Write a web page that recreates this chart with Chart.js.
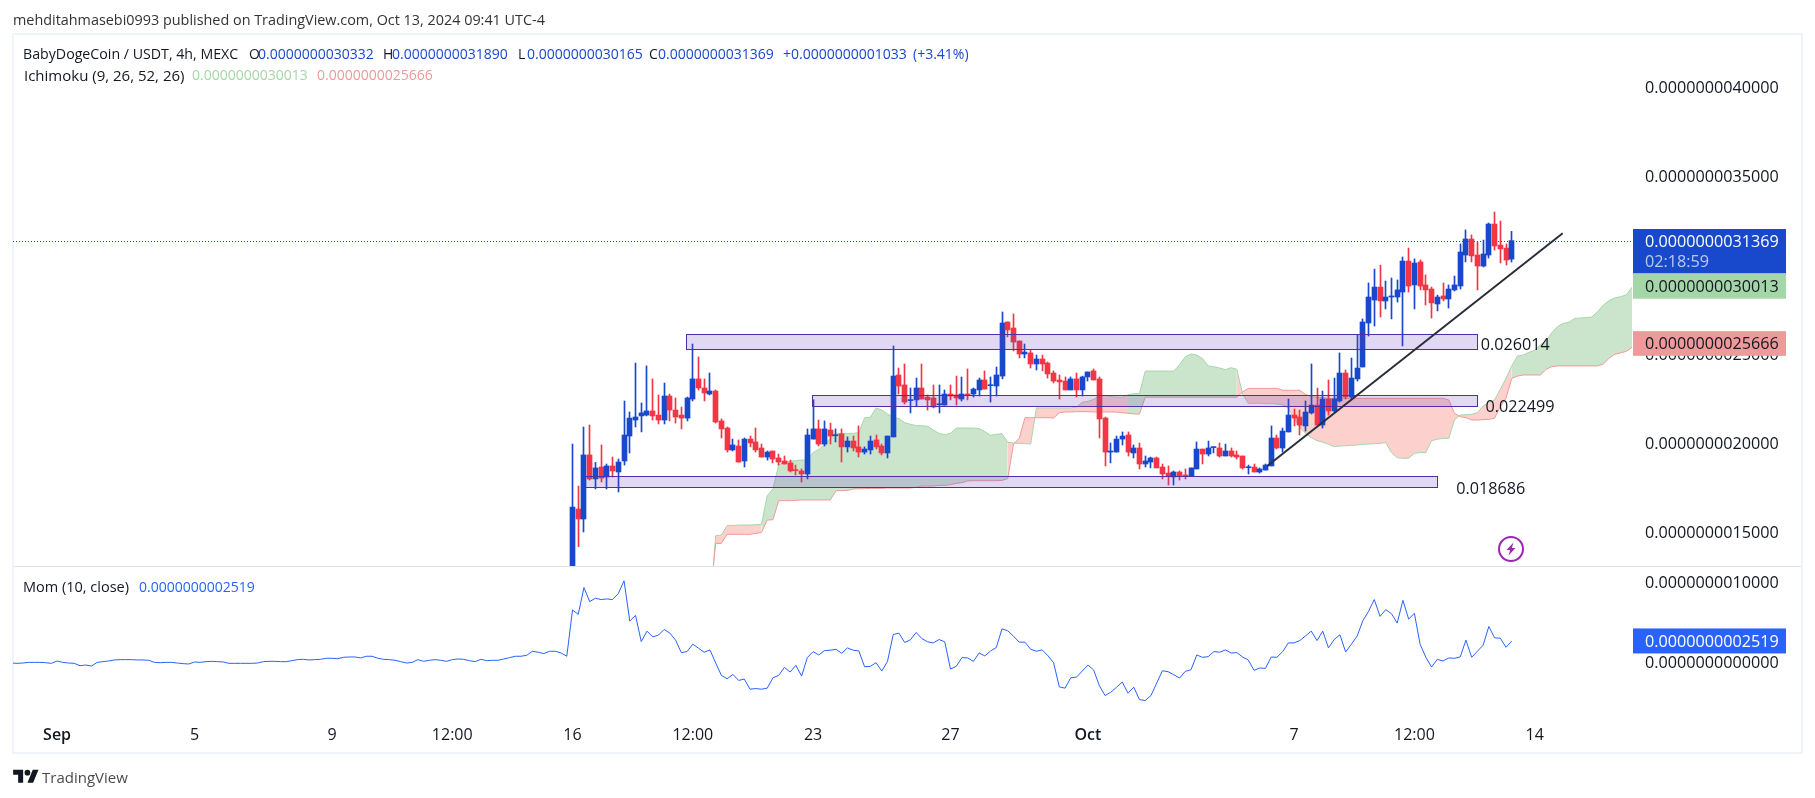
<!DOCTYPE html>
<html>
<head>
<meta charset="utf-8">
<title>BabyDogeCoin / USDT</title>
<style>
    html, body { margin: 0; padding: 0; background: #fff; }
    #page { position: relative; width: 1815px; height: 798px; overflow: hidden; font-family: "Open Sans", sans-serif; font-size: 14px; color: #131722; }
    #frame { position: absolute; left: 12px; top: 33px; width: 1791px; height: 721px; box-sizing: border-box; border: 2px solid #f0f3fa; }
    #wrap { position: absolute; left: 0; top: 0; width: 1815px; height: 798px; }
    .t { position: absolute; line-height: 20px; white-space: nowrap; }
    .v { color: #1848cc; }
</style>
</head>
<body>
<div id="page">
    <div id="frame"></div>
    <div id="wrap"><canvas id="chart"></canvas></div>

    <div class="t" style="left:13px;top:10px;color:#333;font-size:14.4px">mehditahmasebi0993 published on TradingView.com, Oct 13, 2024 09:41 UTC-4</div>

    <div class="t" style="left:23px;top:44px;font-size:14.2px">BabyDogeCoin / USDT, 4h, MEXC</div>
    <div class="t" style="left:249px;top:44px">O</div><div class="t v" style="left:258px;top:44px">0.0000000030332</div>
    <div class="t" style="left:383px;top:44px">H</div><div class="t v" style="left:392px;top:44px">0.0000000031890</div>
    <div class="t" style="left:518px;top:44px">L</div><div class="t v" style="left:527px;top:44px">0.0000000030165</div>
    <div class="t" style="left:649px;top:44px">C</div><div class="t v" style="left:658px;top:44px">0.0000000031369</div>
    <div class="t v" style="left:783px;top:44px">+0.0000000001033</div>
    <div class="t v" style="left:913px;top:44px">(+3.41%)</div>

    <div class="t" style="left:24px;top:65px;font-size:15px">Ichimoku (9, 26, 52, 26)</div>
    <div class="t" style="left:192px;top:65px;color:#a5d6a7">0.0000000030013</div>
    <div class="t" style="left:317px;top:65px;color:#ef9a9a">0.0000000025666</div>

    <div class="t" style="left:23px;top:577px;font-size:14.5px">Mom (10, close)</div>
    <div class="t" style="left:139px;top:577px;color:#2962ff">0.0000000002519</div>

    <svg style="position:absolute;left:13px;top:767px" width="26" height="20" viewBox="0 0 36 28" fill="#131722">
        <path d="M14 22H7V11H0V4h14v18zM28 22h-8l7.5-18h8L28 22z"/><circle cx="20" cy="8" r="4"/>
    </svg>
    <div class="t" style="left:42px;top:767px;font-size:15px;color:#4a4a4a">TradingView</div>

    <svg style="position:absolute;left:1497px;top:535px" width="28" height="28" viewBox="0 0 28 28">
        <circle cx="14" cy="14" r="12" fill="#fff" stroke="#9c27b0" stroke-width="2"/>
        <path d="M16.5 7.5 L9.5 15 H13.2 L11.5 20.5 L18.5 13 H14.8 Z" fill="#9c27b0"/>
    </svg>
</div>

<script src="https://cdn.jsdelivr.net/npm/chart.js@4/dist/chart.umd.js"></script>
<script>
// ------------------------------------------------------- //
// Data. Prices are in units of 1e-9
// ------------------------------------------------------ //
const opens = [
    1.25,1.629,1.573,1.933,1.798,1.865,1.809,1.871,1.837,1.899,
    2.039,2.129,2.152,2.157,2.180,2.157,2.129,2.264,2.185,2.157,
    2.140,2.247,2.360,2.309,2.275,2.292,2.124,2.084,1.961,1.983,
    1.899,2.022,2.006,1.972,1.921,1.955,1.916,1.899,1.888,1.848,
    1.843,1.826,2.022,2.079,1.994,2.073,2.041,2.051,1.978,2.011,
    1.978,1.949,1.961,2.017,1.983,1.944,2.034,2.382,2.326,2.238,
    2.242,2.309,2.258,2.253,2.215,2.213,2.275,2.270,2.247,2.275,
    2.275,2.298,2.354,2.322,2.320,2.376,2.680,2.646,2.573,2.500,
    2.506,2.444,2.472,2.449,2.393,2.354,2.348,2.298,2.360,2.298,
    2.371,2.405,2.360,2.140,1.949,1.949,2.022,2.045,1.944,1.972,
    1.882,1.893,1.916,1.865,1.831,1.809,1.837,1.820,1.815,1.854,
    1.966,1.938,1.974,1.972,1.927,1.955,1.933,1.927,1.861,1.865,
    1.837,1.848,1.871,2.028,1.972,2.062,2.157,2.146,2.096,2.169,
    2.213,2.101,2.247,2.180,2.236,2.393,2.258,2.360,2.427,2.674,
    2.803,2.876,2.798,2.820,2.820,2.848,3.022,2.888,3.017,2.888,
    2.865,2.781,2.826,2.809,2.860,2.882,3.056,3.146,3.056,2.994,
    3.056,3.230,3.112,3.095,3.0332
];
const closes = [
    1.640,1.573,1.933,1.798,1.860,1.803,1.871,1.843,1.893,2.045,
    2.140,2.146,2.169,2.180,2.152,2.129,2.264,2.185,2.146,2.140,
    2.253,2.360,2.309,2.281,2.292,2.118,2.079,1.961,1.989,1.893,
    2.022,2.000,1.961,1.921,1.949,1.910,1.893,1.882,1.843,1.845,
    1.826,2.045,2.079,1.994,2.079,2.039,2.045,1.978,2.011,1.972,
    1.949,1.966,2.011,1.978,1.944,2.039,2.376,2.320,2.230,2.242,
    2.309,2.247,2.242,2.202,2.219,2.275,2.264,2.253,2.275,2.270,
    2.303,2.354,2.303,2.326,2.382,2.674,2.635,2.567,2.500,2.511,
    2.444,2.472,2.444,2.388,2.348,2.343,2.298,2.360,2.298,2.371,
    2.399,2.354,2.135,1.949,1.955,2.022,2.039,1.949,1.972,1.882,
    1.899,1.916,1.860,1.826,1.815,1.837,1.815,1.815,1.860,1.966,
    1.938,1.972,1.978,1.927,1.955,1.927,1.921,1.860,1.865,1.837,
    1.854,1.876,2.028,1.972,2.067,2.157,2.140,2.101,2.174,2.213,
    2.101,2.247,2.180,2.247,2.393,2.258,2.365,2.421,2.680,2.820,
    2.876,2.798,2.820,2.826,2.860,3.022,2.882,3.011,2.882,2.860,
    2.787,2.820,2.809,2.865,2.888,3.073,3.146,3.051,2.994,3.062,
    3.230,3.107,3.090,3.028,3.1369
];
const highs = [
    1.994,1.758,2.090,2.101,1.891,1.989,1.882,1.921,1.910,2.236,
    2.174,2.449,2.225,2.433,2.360,2.270,2.337,2.275,2.253,2.202,
    2.258,2.556,2.483,2.360,2.393,2.298,2.135,2.090,2.022,2.017,
    2.028,2.039,2.084,1.994,1.955,1.955,1.938,1.927,1.904,1.876,
    1.854,2.079,2.243,2.129,2.124,2.112,2.079,2.079,2.034,2.039,
    2.096,1.978,2.039,2.045,1.994,2.039,2.545,2.421,2.444,2.309,
    2.365,2.444,2.270,2.326,2.326,2.298,2.326,2.376,2.371,2.416,
    2.309,2.365,2.405,2.371,2.427,2.736,2.680,2.725,2.573,2.556,
    2.523,2.494,2.494,2.455,2.405,2.382,2.371,2.371,2.393,2.376,
    2.399,2.416,2.371,2.146,2.000,2.039,2.062,2.062,1.989,2.000,
    1.927,1.921,1.921,1.882,1.871,1.843,1.843,1.854,1.860,2.006,
    1.966,2.011,1.978,2.000,1.994,1.972,1.955,1.927,1.876,1.882,
    1.860,1.882,2.096,2.045,2.084,2.247,2.191,2.185,2.236,2.444,
    2.309,2.292,2.354,2.365,2.506,2.410,2.477,2.607,2.697,2.899,
    2.977,2.999,2.910,2.927,2.916,3.045,3.095,3.034,3.028,2.944,
    2.876,2.831,2.899,2.888,2.938,3.118,3.197,3.169,3.129,3.140,
    3.236,3.298,3.247,3.118,3.189
];
const lows = [
    1.20,1.418,1.500,1.792,1.742,1.781,1.742,1.809,1.725,1.876,
    1.944,2.090,2.062,2.152,2.129,2.107,2.107,2.124,2.112,2.079,
    2.124,2.236,2.298,2.236,2.270,2.112,2.028,1.949,1.955,1.893,
    1.865,1.978,1.949,1.921,1.904,1.888,1.876,1.882,1.837,1.820,
    1.781,1.798,2.022,1.983,1.983,1.994,2.006,1.893,1.949,1.955,
    1.921,1.938,1.938,1.966,1.933,1.916,2.034,2.275,2.219,2.169,
    2.208,2.247,2.185,2.197,2.169,2.213,2.242,2.213,2.236,2.242,
    2.258,2.264,2.303,2.230,2.264,2.360,2.596,2.517,2.478,2.478,
    2.421,2.410,2.405,2.365,2.337,2.247,2.298,2.298,2.258,2.264,
    2.348,2.354,2.028,1.871,1.888,1.949,1.989,1.927,1.916,1.854,
    1.865,1.860,1.860,1.798,1.764,1.764,1.792,1.798,1.815,1.854,
    1.882,1.927,1.944,1.921,1.927,1.921,1.910,1.854,1.826,1.837,
    1.831,1.848,1.871,1.966,1.949,2.062,2.096,2.045,2.067,2.163,
    2.101,2.084,2.157,2.174,2.230,2.247,2.247,2.348,2.427,2.601,
    2.657,2.708,2.753,2.697,2.792,2.545,2.848,2.753,2.860,2.775,
    2.702,2.742,2.798,2.758,2.854,2.865,3.017,3.017,2.860,2.989,
    3.039,3.084,3.011,3.000,3.0165
];

// Ichimoku leading spans, one value per bar from bar 24 on (bar 0 = Sep 16 00:00)
const cloudFirstBar = 24;
const cloudEntryBar = 24.6; // the spans come up from below the pane here
const senkouA = [
    1.31,1.479,1.483,1.536,1.537,1.539,1.539,1.539,1.541,1.543,
    1.704,1.742,1.876,1.893,1.897,1.901,1.904,1.904,1.946,1.964,
    1.989,2.026,2.051,2.054,2.054,2.054,2.058,2.142,2.144,2.197,
    2.185,2.163,2.144,2.137,2.114,2.105,2.097,2.097,2.094,2.073,
    2.054,2.047,2.054,2.084,2.084,2.084,2.084,2.081,2.064,2.043,
    2.049,2.052,2.004,2.000,1.998,1.996,1.994,2.197,2.197,2.197,
    2.197,2.197,2.197,2.197,2.202,2.229,2.234,2.245,2.264,2.268,
    2.260,2.258,2.257,2.270,2.277,2.277,2.404,2.404,2.404,2.404,
    2.404,2.404,2.440,2.485,2.500,2.494,2.474,2.433,2.429,2.421,
    2.412,2.423,2.414,2.275,2.223,2.223,2.223,2.221,2.221,2.219,
    2.214,2.195,2.139,2.088,2.054,2.030,2.013,2.004,1.993,1.979,
    1.983,1.985,1.987,1.989,1.993,1.994,1.996,1.998,2.002,1.946,
    1.918,1.914,1.914,1.942,1.946,1.946,2.013,2.021,2.026,2.026,
    2.129,2.157,2.159,2.161,2.170,2.208,2.227,2.242,2.302,2.363,
    2.433,2.489,2.494,2.509,2.521,2.551,2.575,2.620,2.654,2.672,
    2.678,2.700,2.702,2.704,2.708,2.738,2.775,2.800,2.815,2.822,
    2.832,2.875
];
const senkouB = [
    1.31,1.436,1.436,1.487,1.487,1.487,1.487,1.487,1.492,1.498,
    1.567,1.569,1.676,1.676,1.676,1.678,1.680,1.680,1.680,1.680,
    1.680,1.680,1.732,1.732,1.734,1.742,1.743,1.743,1.745,1.745,
    1.745,1.747,1.747,1.747,1.747,1.747,1.751,1.758,1.758,1.758,
    1.762,1.762,1.766,1.773,1.777,1.787,1.788,1.788,1.788,1.788,
    1.788,1.790,1.800,1.994,2.026,2.142,2.142,2.142,2.142,2.142,
    2.140,2.170,2.174,2.174,2.176,2.176,2.176,2.174,2.174,2.174,
    2.174,2.174,2.170,2.167,2.163,2.163,2.257,2.257,2.257,2.257,
    2.257,2.257,2.257,2.257,2.257,2.257,2.257,2.257,2.257,2.257,
    2.257,2.257,2.257,2.287,2.307,2.307,2.307,2.307,2.307,2.307,
    2.296,2.296,2.296,2.296,2.273,2.260,2.257,2.255,2.251,2.251,
    2.251,2.251,2.251,2.251,2.251,2.251,2.251,2.251,2.251,2.251,
    2.251,2.251,2.251,2.251,2.251,2.251,2.251,2.251,2.251,2.242,
    2.167,2.148,2.142,2.129,2.129,2.131,2.133,2.139,2.204,2.251,
    2.363,2.376,2.382,2.382,2.382,2.382,2.414,2.429,2.433,2.433,
    2.433,2.433,2.433,2.433,2.433,2.433,2.444,2.476,2.498,2.506,
    2.515,2.537
];
// bar ranges where the cloud is filled red instead of green
const cloudRedSpans = [[24, 33], [76, 97], [116, 164]];

// Momentum, from bar -98 (the left edge) to the last bar
const momFirstBar = -98;
const momentum = [
    -.021,-.025,-.021,-.013,-.013,-.013,-.017,-.025,.004,-.013,
    -.021,-.025,-.054,-.046,-.058,-.013,-.004,.004,.017,.021,
    .021,.021,.017,.017,.013,-.013,-.017,-.013,-.013,-.021,
    -.029,-.033,-.008,-.013,-.004,0,-.004,-.008,-.025,-.025,
    -.025,-.025,-.025,-.021,-.004,0,0,-.004,-.004,.008,
    .021,.025,.017,.021,.025,.038,.038,.033,.05,.054,
    .054,.042,.063,.063,.038,.025,.021,.013,-.004,-.021,
    -.013,.021,0,.013,.021,.013,0,.021,.029,.025,
    .008,-.004,.025,.008,.013,.013,.029,.046,.063,.063,
    .075,.125,.113,.096,.125,.125,.104,.063,
    .638,.583,.917,.742,.784,.767,.775,.767,.842,1.0,
    .5,.571,.246,.375,.304,.325,.396,.35,.263,.108,
    .121,.213,.163,.113,.142,-.021,-.175,-.217,-.162,-.237,
    -.221,-.346,-.338,-.346,-.333,-.204,-.175,-.075,-.133,-.05,
    -.183,.046,.121,.079,.133,.138,.15,.1,.167,.138,
    .129,-.067,-.063,-.017,-.121,0,.333,.35,.234,.267,
    .358,.283,.242,.229,.271,.242,-.096,-.062,.046,.042,
    0,.104,.067,.129,.171,.404,.379,.313,.238,.238,
    .15,.125,.142,.071,-.017,-.317,-.333,-.204,-.196,-.121,
    -.046,-.108,-.304,-.425,-.383,-.321,-.258,-.396,-.321,-.475,
    -.487,-.425,-.271,-.117,-.129,-.167,-.208,-.125,-.104,.079,
    .05,.058,.121,.113,.142,.104,.108,.054,.017,-.112,
    -.083,-.087,.054,.05,.121,.229,.229,.258,.317,.375,
    .258,.375,.167,.271,.329,.117,.213,.313,.504,.621,
    .767,.558,.642,.592,.475,.758,.525,.596,.213,.05,
    -.071,.025,.004,.042,.038,.054,.263,.05,.125,.2,
    .433,.292,.288,.175,.2519
];

const priceTicks = [1.5, 2, 2.5, 3, 3.5, 4];
const momTicks = [0, 1];
const dateTickBars = [-90, -66, -42, -21, 0, 21, 42, 66, 90, 126, 147, 168];
const dateTickLabels = ['Sep', '5', '9', '12:00', '16', '12:00', '23', '27', 'Oct', '7', '12:00', '14'];

const lastPrice = 3.1369;
const spanAValue = 3.0013;
const spanBValue = 2.5666;
const momValue = 0.2519;

// Drawn objects: zones, their labels and the trend line
const zoneStartBars = [19.9, 41.9, 2.2];
const zoneEndBars = [157.9, 157.9, 150.9];
const zoneTops = [2.611, 2.268, 1.813];
const zoneBottoms = [2.526, 2.206, 1.751];
const zoneLabels = ['0.026014', '0.022499', '0.018686'];
const zoneLabelBars = [158.6, 159.4, 154.3];
const zoneLabelPrices = [2.556, 2.208, 1.744];
const trendBars = [121.3, 172.9];
const trendPrices = [1.871, 3.178];

// ------------------------------------------------------- //
// Chart
// ------------------------------------------------------ //
const UP = '#1848cc';
const DOWN = '#f23645';
const TEXT = '#131722';
const FONT = '"Open Sans", sans-serif';
const TICK_SIZE = 16.2;

function priceText(v) {
    return (v / 1e9).toFixed(13);
}

function isRedCloud(bar) {
    return cloudRedSpans.some(function (s) { return bar >= s[0] && bar < s[1]; });
}

function cloudPoints(values) {
    return values.map(function (v, i) {
        return { x: i === 0 ? cloudEntryBar : cloudFirstBar + i, y: v };
    });
}

const candleColors = closes.map(function (c, i) { return c >= opens[i] ? UP : DOWN; });
const leftBar = -97.7;
const rightBar = 185;

// keeps wicks, bodies and the last price line on whole pixels, like the original
const snapMarks = {
    id: 'snapMarks',
    afterDatasetsUpdate: function (chart) {
        chart.data.datasets.forEach(function (ds, i) {
            if (ds.type === 'bar') {
                chart.getDatasetMeta(i).data.forEach(function (el) { el.x = Math.floor(el.x) + 0.5; });
            }
            if (ds.label === 'Last price') {
                chart.getDatasetMeta(i).data.forEach(function (el) { el.y = Math.round(el.y) + 0.5; });
            }
        });
    }
};

// zones go above the candles and below the trend line
const drawings = {
    id: 'drawings',
    beforeDatasetDraw: function (chart, args) {
        if (chart.data.datasets[args.index].label !== 'Trend') { return; }
        const ctx = chart.ctx, x = chart.scales.x, y = chart.scales.y;
        ctx.save();
        zoneTops.forEach(function (top, i) {
            const l = Math.round(x.getPixelForValue(zoneStartBars[i])) + 0.5;
            const r = Math.round(x.getPixelForValue(zoneEndBars[i])) + 0.5;
            const t = Math.round(y.getPixelForValue(top)) + 0.5;
            const b = Math.round(y.getPixelForValue(zoneBottoms[i])) + 0.5;
            ctx.fillStyle = 'rgba(103, 58, 183, 0.2)';
            ctx.fillRect(l, t, r - l, b - t);
            ctx.strokeStyle = '#512da8';
            ctx.lineWidth = 1;
            ctx.strokeRect(l, t, r - l, b - t);
        });
        ctx.restore();
    },
    afterDraw: function (chart) {
        const ctx = chart.ctx, x = chart.scales.x, y = chart.scales.y, m = chart.scales.yMom;
        const tagLeft = y.left + 1, tagWidth = 153, textLeft = y.left + 13;
        ctx.save();
        ctx.font = TICK_SIZE + 'px ' + FONT;
        ctx.textBaseline = 'middle';

        // pane separator
        ctx.fillStyle = '#e0e3eb';
        ctx.fillRect(14, Math.round(y.bottom), 1787, 1);

        // zone labels
        ctx.fillStyle = TEXT;
        zoneLabels.forEach(function (t, i) {
            ctx.fillText(t, x.getPixelForValue(zoneLabelBars[i]), y.getPixelForValue(zoneLabelPrices[i]) + 1);
        });

        // price tags
        const py = y.getPixelForValue(lastPrice);
        ctx.fillStyle = UP;
        ctx.fillRect(tagLeft, py - 11.6, tagWidth, 44.4);
        ctx.fillStyle = '#fff';
        ctx.fillText(priceText(lastPrice), textLeft, py + 2);
        ctx.fillStyle = 'rgba(255, 255, 255, 0.7)';
        ctx.fillText('02:18:59', textLeft, py + 22);

        const ay = py + 33.4;
        ctx.fillStyle = '#a5d6a7';
        ctx.fillRect(tagLeft, ay, tagWidth, 24.7);
        ctx.fillStyle = TEXT;
        ctx.fillText(priceText(spanAValue), textLeft, ay + 13.5);

        const by = y.getPixelForValue(spanBValue) - 11;
        ctx.fillStyle = '#ef9a9a';
        ctx.fillRect(tagLeft, by, tagWidth, 24.7);
        ctx.fillStyle = TEXT;
        ctx.fillText(priceText(spanBValue), textLeft, by + 13.5);

        const my = m.getPixelForValue(momValue) - 12.6;
        ctx.fillStyle = '#2962ff';
        ctx.fillRect(tagLeft, my, tagWidth, 25);
        ctx.fillStyle = '#fff';
        ctx.fillText(priceText(momValue), textLeft, my + 14);
        ctx.restore();
    }
};

const chart = new Chart(document.getElementById('chart'), {
    data: {
        datasets: [{
            type: 'line',
            label: 'Leading Span A',
            order: 10,
            yAxisID: 'y',
            data: cloudPoints(senkouA),
            borderColor: '#a5d6a7',
            borderWidth: 1,
            pointRadius: 0,
            fill: '+1',
            backgroundColor: 'rgba(67, 160, 71, 0.28)',
            segment: {
                backgroundColor: function (ctx) {
                    return isRedCloud(cloudFirstBar + ctx.p0DataIndex) ? 'rgba(244, 67, 54, 0.25)' : 'rgba(67, 160, 71, 0.28)';
                }
            }
        }, {
            type: 'line',
            label: 'Leading Span B',
            order: 9,
            yAxisID: 'y',
            data: cloudPoints(senkouB),
            borderColor: '#ef9a9a',
            borderWidth: 1,
            pointRadius: 0,
            fill: false
        }, {
            type: 'line',
            label: 'Last price',
            order: 8,
            yAxisID: 'y',
            data: [{ x: leftBar, y: lastPrice }, { x: rightBar, y: lastPrice }],
            borderColor: UP,
            borderWidth: 1,
            borderDash: [1, 2],
            pointRadius: 0,
            fill: false
        }, {
            type: 'bar',
            label: 'Wicks',
            order: 7,
            yAxisID: 'y',
            data: lows.map(function (v, i) { return { x: i, y: [v, highs[i]] }; }),
            backgroundColor: candleColors,
            barThickness: 1,
            grouped: false
        }, {
            type: 'bar',
            label: 'Bodies',
            order: 6,
            yAxisID: 'y',
            data: opens.map(function (v, i) { return { x: i, y: [v, closes[i]] }; }),
            backgroundColor: candleColors,
            barThickness: 5,
            minBarLength: 1,
            grouped: false
        }, {
            type: 'line',
            label: 'Mom',
            order: 5,
            yAxisID: 'yMom',
            data: momentum.map(function (v, i) { return { x: momFirstBar + i, y: v }; }),
            borderColor: '#2962ff',
            borderWidth: 1,
            pointRadius: 0,
            fill: false
        }, {
            type: 'line',
            label: 'Trend',
            order: 1,
            yAxisID: 'y',
            data: trendBars.map(function (v, i) { return { x: v, y: trendPrices[i] }; }),
            borderColor: '#2a2e39',
            borderWidth: 2,
            pointRadius: 0,
            fill: false
        }]
    },
    options: {
        responsive: true,
        maintainAspectRatio: false,
        animation: false,
        events: [],
        layout: { padding: { left: 13, top: 35, right: 13, bottom: 46 } },
        plugins: { legend: { display: false }, tooltip: { enabled: false } },
        scales: {
            x: {
                type: 'linear',
                min: leftBar,
                max: rightBar,
                offset: false,
                grid: { display: false },
                border: { display: false },
                afterBuildTicks: function (scale) {
                    scale.ticks = dateTickBars.map(function (v) { return { value: v }; });
                },
                afterFit: function (scale) { scale.height = 36; },
                ticks: {
                    autoSkip: false,
                    maxRotation: 0,
                    padding: 2,
                    color: TEXT,
                    font: function (ctx) {
                        const bold = dateTickLabels[ctx.index] === 'Sep' || dateTickLabels[ctx.index] === 'Oct';
                        return { family: FONT, size: 16, weight: bold ? '600' : '400' };
                    },
                    callback: function (value, index) { return dateTickLabels[index]; }
                }
            },
            y: {
                type: 'linear',
                position: 'right',
                stack: 'panes',
                stackWeight: 531,
                min: 1.309,
                max: 4.292,
                grid: { display: false, drawTicks: false },
                border: { display: false },
                afterBuildTicks: function (scale) {
                    scale.ticks = priceTicks.map(function (v) { return { value: v }; });
                },
                afterFit: function (scale) { scale.width = 170; },
                ticks: {
                    padding: 13,
                    labelOffset: 1.5,
                    color: TEXT,
                    font: { family: FONT, size: TICK_SIZE },
                    callback: priceText
                }
            },
            yMom: {
                type: 'linear',
                position: 'right',
                stack: 'panes',
                stackWeight: 150,
                min: -0.679,
                max: 1.184,
                grid: { display: false, drawTicks: false },
                border: { display: false },
                afterBuildTicks: function (scale) {
                    scale.ticks = momTicks.map(function (v) { return { value: v }; });
                },
                afterFit: function (scale) { scale.width = 170; },
                ticks: {
                    padding: 13,
                    labelOffset: 2.5,
                    color: TEXT,
                    font: { family: FONT, size: TICK_SIZE },
                    callback: priceText
                }
            }
        }
    },
    plugins: [snapMarks, drawings]
});
</script>
</body>
</html>
